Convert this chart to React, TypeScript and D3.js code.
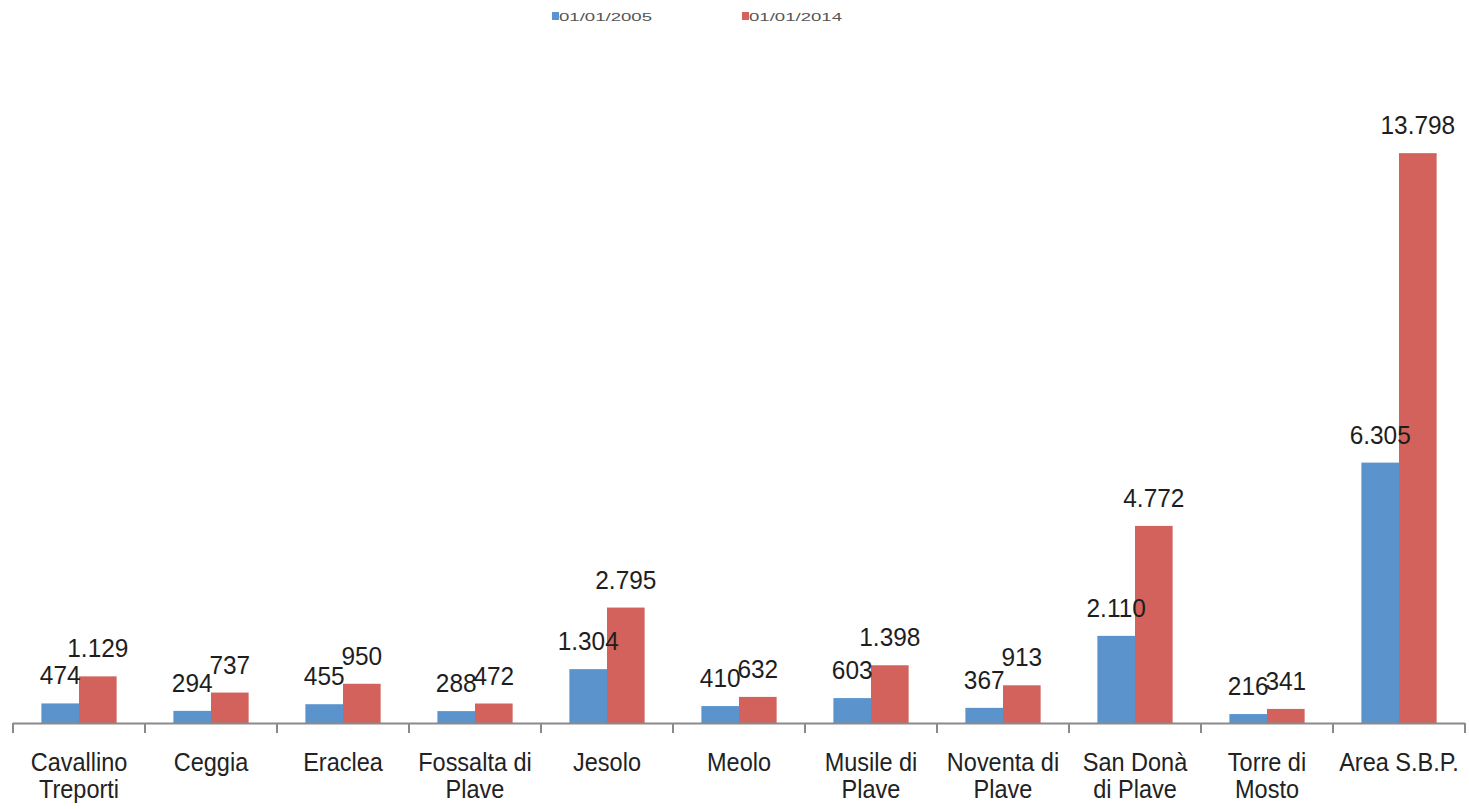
import React from "react";
import * as d3 from "d3";

const categories = [
  "Cavallino\nTreporti",
  "Ceggia",
  "Eraclea",
  "Fossalta di\nPlave",
  "Jesolo",
  "Meolo",
  "Musile di\nPlave",
  "Noventa di\nPlave",
  "San Donà\ndi Plave",
  "Torre di\nMosto",
  "Area S.B.P.",
];
const seriesNames = ["01/01/2005", "01/01/2014"];
const values2005 = [474, 294, 455, 288, 1304, 410, 603, 367, 2110, 216, 6305];
const values2014 = [1129, 737, 950, 472, 2795, 632, 1398, 913, 4772, 341, 13798];
const colors = ["#5b93cc", "#d2625b"];

const W = 1469;
const H = 809;

export default function App() {
  const x = d3.scaleBand<number>().domain(d3.range(categories.length)).range([13, 1465]).paddingInner(0).paddingOuter(0);
  const step = x.bandwidth();
  const barW = step * 0.285;
  const y = d3.scaleLinear().domain([0, 14000]).range([723, 723 - 14000 * 0.0413]);
  const fmt = d3.formatLocale({ decimal: ",", thousands: ".", grouping: [3], currency: ["€", ""] }).format(",d");
  const series = [values2005, values2014];
  const font = "'Liberation Sans', Arial, sans-serif";
  const baseY = y(0);

  return (
    <div style={{ position: "absolute", left: 0, top: 0, width: W, height: H, background: "#fff" }}>
      <svg width={W} height={H} style={{ display: "block" }} fontFamily={font}>
        <rect x={0} y={0} width={W} height={H} fill="#fff" />
        {/* legend */}
        {seriesNames.map((name, i) => {
          const lx = i === 0 ? 552 : 742;
          return (
            <g key={name}>
              <rect x={lx} y={12} width={7} height={8} fill={colors[i]} />
              <text x={lx + 7} y={20.5} fontSize={11.5} fill="#555" textLength={93} lengthAdjust="spacingAndGlyphs">
                {name}
              </text>
            </g>
          );
        })}
        {/* bars */}
        {series.map((vals, si) =>
          vals.map((v, ci) => {
            const cx = (x(ci) as number) + step / 2;
            const bx = si === 0 ? cx - barW : cx;
            return (
              <rect key={`b${si}-${ci}`} x={bx} y={y(v)} width={barW} height={baseY - y(v)} fill={colors[si]} />
            );
          })
        )}
        {/* axis */}
        <line x1={13} x2={1465} y1={baseY + 0.5} y2={baseY + 0.5} stroke="#8a8a8a" strokeWidth={2} />
        {d3.range(categories.length + 1).map((i) => {
          const tx = i < categories.length ? (x(i) as number) : 1465;
          return <line key={`t${i}`} x1={tx} x2={tx} y1={baseY} y2={baseY + 10} stroke="#8a8a8a" strokeWidth={2} />;
        })}
        {/* data labels */}
        {series.map((vals, si) =>
          vals.map((v, ci) => {
            const cx = (x(ci) as number) + step / 2;
            const lx = si === 0 ? cx - barW / 2 : cx + barW / 2;
            const ly = y(v) - 19;
            return (
              <text
                key={`l${si}-${ci}`}
                transform={`translate(${lx},${ly}) scale(0.94,1)`}
                textAnchor="middle"
                fontSize={26}
                fill="#1e1e1e"
              >
                {fmt(v)}
              </text>
            );
          })
        )}
        {/* category labels */}
        {categories.map((c, ci) => {
          const cx = (x(ci) as number) + step / 2;
          return c.split("\n").map((line, li) => (
            <text
              key={`c${ci}-${li}`}
              transform={`translate(${cx},${771 + li * 27}) scale(0.94,1)`}
              textAnchor="middle"
              fontSize={25}
              fill="#222"
            >
              {line}
            </text>
          ));
        })}
      </svg>
    </div>
  );
}
